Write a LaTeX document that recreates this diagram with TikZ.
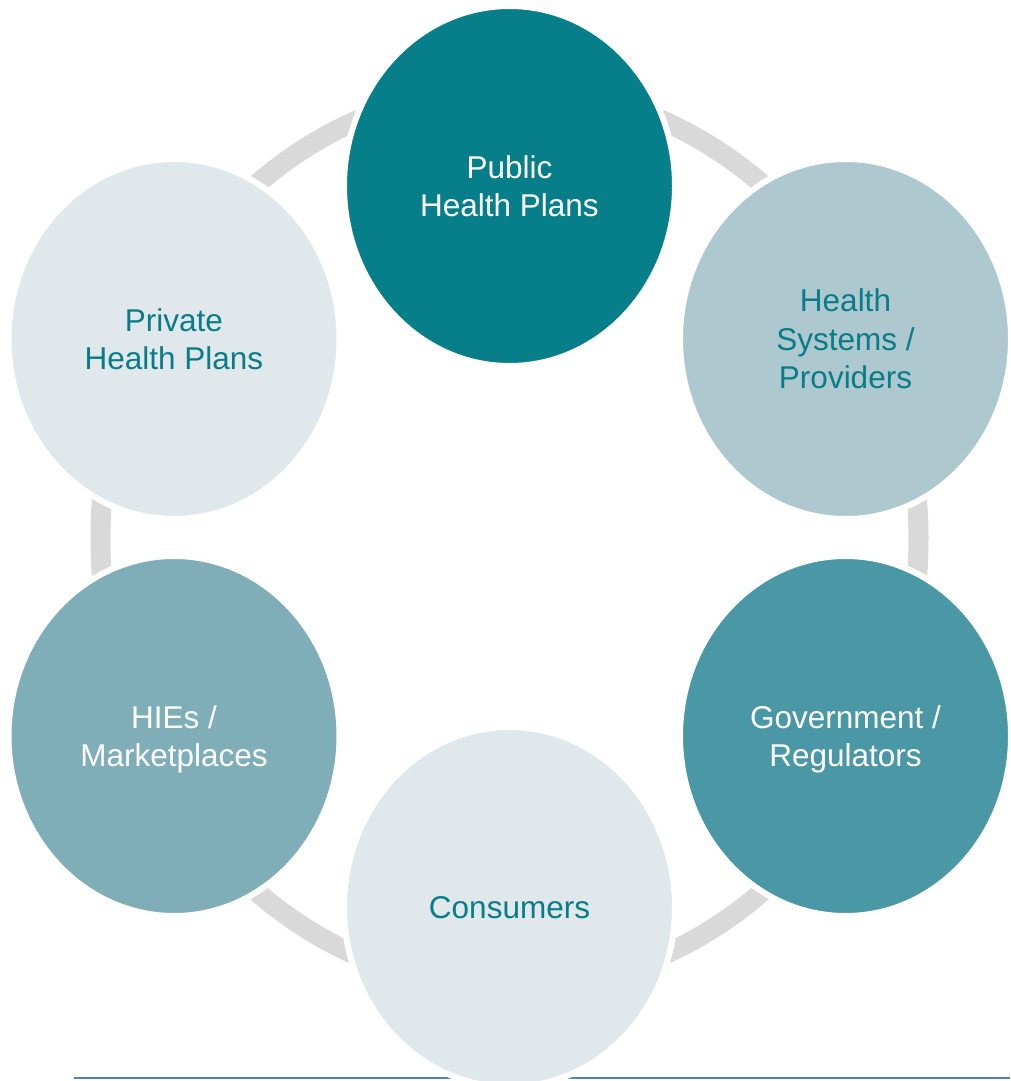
\documentclass[tikz,border=0pt]{standalone}
\usepackage{fontspec}
\setmainfont{Liberation Sans}
\usetikzlibrary{shapes.geometric}
\definecolor{tealdark}{HTML}{077F8A}
\definecolor{tealmid}{HTML}{4A98A6}
\definecolor{tealsoft}{HTML}{7FAEB8}
\definecolor{bluegrey}{HTML}{AEC8D0}
\definecolor{palegrey}{HTML}{E0E8EC}
\definecolor{ringgrey}{HTML}{D9D9D9}
\definecolor{texteal}{HTML}{087D88}
\definecolor{ruleblue}{HTML}{4F81BD}
\tikzset{
  bubble/.style={ellipse, draw=white, line width=6pt, minimum width=331pt, minimum height=360pt,
    inner sep=0pt, outer sep=0pt, align=center, text depth=0pt,
    font=\fontsize{31.5pt}{38.5pt}\selectfont},
  darkbubble/.style={bubble, text=white},
  lightbubble/.style={bubble, text=texteal},
  ringline/.style={draw=ringgrey, line width=20pt},
  rulestyle/.style={draw=ruleblue, line width=2pt}
}
\begin{document}
\begin{tikzpicture}[x=1pt,y=-1pt]
\useasboundingbox (0,0) rectangle (1010,1081);
% ring
\coordinate (ringc) at (509.5,538);
\draw[ringline] (ringc) ellipse [x radius=409pt, y radius=450pt];
% bottom rule
\coordinate (ruleL) at (74,1078);
\coordinate (ruleR) at (1010,1078);
\draw[rulestyle] (ruleL) -- (ruleR);
% nodes
\node[darkbubble, fill=tealdark] (public) at (509.5,186) {Public\\Health Plans};
\node[lightbubble, fill=bluegrey] (systems) at (845.5,339) {Health\\Systems /\\Providers};
\node[darkbubble, fill=tealmid] (gov) at (845.5,736) {Government /\\Regulators};
\node[lightbubble, fill=palegrey] (consumers) at (509.5,907) {Consumers};
\node[darkbubble, fill=tealsoft] (hies) at (174,736) {HIEs /\\Marketplaces};
\node[lightbubble, fill=palegrey] (private) at (174,339) {Private\\Health Plans};
\end{tikzpicture}
\end{document}
